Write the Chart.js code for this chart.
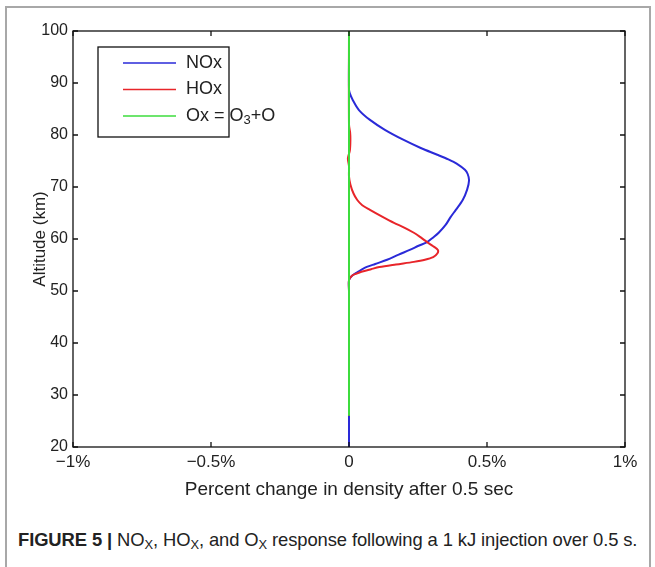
<!DOCTYPE html>
<html lang="en">
<head>
    <meta charset="UTF-8">
    <title>Figure 5</title>
    <script src="https://cdn.jsdelivr.net/npm/chart.js"></script>
    <style>
        body {
            margin: 0;
            background: #fff;
            font-family: 'Liberation Sans', Arial, sans-serif;
        }
        #frame {
            position: absolute;
            left: 5px;
            top: 6px;
            width: 642px;
            height: 600px;
            border: 2px solid #a8a8a8;
            border-bottom: none;
        }
        #wrap {
            position: absolute;
            left: 0;
            top: 0;
            width: 655px;
            height: 520px;
        }
        #caption {
            position: absolute;
            left: 18px;
            top: 529px;
            font-size: 18.4px;
            color: #222;
            white-space: nowrap;
            letter-spacing: -0.1px;
        }
        #caption b { font-weight: bold; }
        #caption sub { font-size: 70%; vertical-align: -3px; }
    </style>
</head>
<body>

    <div id="frame"></div>
    <div id="wrap"><canvas id="chart" width="655" height="520"></canvas></div>
    <div id="caption"><b>FIGURE 5 |</b> NO<sub>X</sub>, HO<sub>X</sub>, and O<sub>X</sub> response following a 1 kJ injection over 0.5 s.</div>

    <script>
        // altitude (km) and percent change for each species
        var noxAlt = [20, 30, 40, 50, 52.1, 52.9, 53.6, 54.4, 55.2, 56.0, 57.0, 57.9, 58.7, 59.4, 60.3, 61.2, 62.7, 64.2, 65.6, 67.5, 69.5, 71.3, 72.5, 73.3, 74.5, 75.3, 76.2, 77.5, 79.0, 81.0, 82.9, 84.8, 86.7, 88.0, 88.8, 95, 100];
        var noxVal = [0, 0, 0, 0, 0, 0.01, 0.03, 0.055, 0.095, 0.138, 0.18, 0.22, 0.252, 0.283, 0.305, 0.325, 0.35, 0.368, 0.387, 0.412, 0.428, 0.435, 0.43, 0.42, 0.39, 0.36, 0.32, 0.26, 0.2, 0.13, 0.076, 0.036, 0.014, 0.003, 0, 0, 0];

        var hoxAlt = [26, 40, 50, 52.1, 52.9, 53.3, 53.7, 54.2, 54.6, 55.1, 55.6, 56.0, 56.5, 57.2, 57.9, 58.6, 59.4, 60.3, 61.2, 62.2, 63.1, 64.3, 65.6, 66.5, 67.5, 68.8, 70.5, 72, 74, 75.5, 77, 79, 80.5, 82, 100];
        var hoxVal = [0, 0, 0, 0, 0.01, 0.025, 0.045, 0.08, 0.11, 0.17, 0.235, 0.275, 0.305, 0.32, 0.322, 0.305, 0.283, 0.26, 0.235, 0.2, 0.163, 0.12, 0.076, 0.048, 0.03, 0.016, 0.005, 0, 0, -0.004, 0.003, 0.005, 0.004, 0, 0];

        var oxAlt = [26, 100];
        var oxVal = [0, 0];

        var seriesLabels = ['NOx', 'HOx', 'Ox = O3+O'];
        var seriesColors = ['#2a2ad8', '#e8252a', '#3ddc3d'];

        var xTickValues = [-1, -0.5, 0, 0.5, 1];
        var xTickLabels = ['\u22121%', '\u22120.5%', '0', '0.5%', '1%'];
        var yTickValues = [20, 30, 40, 50, 60, 70, 80, 90, 100];

        var fontFamily = "'Liberation Sans', Arial, sans-serif";

        function toPoints(alt, val) {
            var pts = [];
            for (var i = 0; i < alt.length; i++) {
                pts.push({ x: val[i], y: alt[i] });
            }
            return pts;
        }

        // box around the plot with inward tick marks on all four sides
        var boxPlugin = {
            id: 'box',
            afterDatasetsDraw: function (chart) {
                var ctx = chart.ctx;
                var a = chart.chartArea;
                var xs = chart.scales.x, ys = chart.scales.y;
                ctx.save();
                ctx.strokeStyle = '#111';
                ctx.lineWidth = 1.3;
                ctx.strokeRect(a.left, a.top, a.right - a.left, a.bottom - a.top);
                ctx.beginPath();
                xTickValues.forEach(function (v) {
                    var px = xs.getPixelForValue(v);
                    ctx.moveTo(px, a.bottom); ctx.lineTo(px, a.bottom - 5);
                    ctx.moveTo(px, a.top); ctx.lineTo(px, a.top + 5);
                });
                yTickValues.forEach(function (v) {
                    var py = ys.getPixelForValue(v);
                    ctx.moveTo(a.left, py); ctx.lineTo(a.left + 5, py);
                    ctx.moveTo(a.right, py); ctx.lineTo(a.right - 5, py);
                });
                ctx.stroke();
                ctx.restore();
            }
        };

        // legend box in the upper left corner of the plot
        var legendPlugin = {
            id: 'boxLegend',
            afterDraw: function (chart) {
                var ctx = chart.ctx;
                var a = chart.chartArea;
                var bx = a.left + 25, by = a.top + 16, bw = 131, bh = 90;
                var fs = 18;
                ctx.save();
                ctx.fillStyle = '#fff';
                ctx.fillRect(bx, by, bw, bh);
                ctx.strokeStyle = '#111';
                ctx.lineWidth = 1.3;
                ctx.strokeRect(bx, by, bw, bh);
                ctx.font = fs + 'px ' + fontFamily;
                ctx.textBaseline = 'middle';
                chart.data.datasets.forEach(function (ds, i) {
                    var ly = by + 16 + i * 26.5;
                    ctx.strokeStyle = ds.borderColor;
                    ctx.lineWidth = 1.5;
                    ctx.beginPath();
                    ctx.moveTo(bx + 25, ly);
                    ctx.lineTo(bx + 78, ly);
                    ctx.stroke();
                    ctx.fillStyle = '#222';
                    var tx = bx + 88;
                    var label = ds.label;
                    var k = label.indexOf('O3');
                    if (k >= 0) {
                        // subscript 3 in O3
                        var pre = label.slice(0, k + 1);
                        var post = label.slice(k + 2);
                        ctx.fillText(pre, tx, ly);
                        tx += ctx.measureText(pre).width;
                        ctx.font = '13px ' + fontFamily;
                        ctx.fillText('3', tx, ly + 4);
                        tx += ctx.measureText('3').width;
                        ctx.font = fs + 'px ' + fontFamily;
                        ctx.fillText(post, tx, ly);
                    } else {
                        ctx.fillText(label, tx, ly);
                    }
                });
                ctx.restore();
            }
        };

        var ctx = document.getElementById('chart').getContext('2d');
        var myChart = new Chart(ctx, {
            type: 'line',
            data: {
                datasets: [
                    { label: seriesLabels[0], data: toPoints(noxAlt, noxVal), borderColor: seriesColors[0], order: 3 },
                    { label: seriesLabels[1], data: toPoints(hoxAlt, hoxVal), borderColor: seriesColors[1], order: 2 },
                    { label: seriesLabels[2], data: toPoints(oxAlt, oxVal), borderColor: seriesColors[2], order: 1 }
                ]
            },
            options: {
                responsive: false,
                animation: false,
                layout: { padding: { left: 0, top: 31, right: 30, bottom: 0 } },
                elements: {
                    line: { borderWidth: 2, tension: 0.3, fill: false },
                    point: { radius: 0 }
                },
                plugins: {
                    legend: { display: false },
                    tooltip: { enabled: false }
                },
                scales: {
                    x: {
                        type: 'linear',
                        min: -1,
                        max: 1,
                        afterBuildTicks: function (scale) {
                            scale.ticks = xTickValues.map(function (v) { return { value: v }; });
                        },
                        afterFit: function (scale) { scale.height = 73; },
                        ticks: {
                            autoSkip: false,
                            maxRotation: 0,
                            padding: 5,
                            color: '#222',
                            font: { family: fontFamily, size: 17 },
                            callback: function (v, i) { return xTickLabels[i]; }
                        },
                        grid: { display: false, drawTicks: false },
                        border: { display: false },
                        title: {
                            display: true,
                            text: 'Percent change in density after 0.5 sec',
                            color: '#222',
                            font: { family: fontFamily, size: 19 },
                            padding: { top: 4, bottom: 19 }
                        }
                    },
                    y: {
                        type: 'linear',
                        min: 20,
                        max: 100,
                        afterBuildTicks: function (scale) {
                            scale.ticks = yTickValues.map(function (v) { return { value: v }; });
                        },
                        afterFit: function (scale) { scale.width = 73; },
                        ticks: {
                            padding: 5,
                            color: '#222',
                            font: { family: fontFamily, size: 16 }
                        },
                        grid: { display: false, drawTicks: false },
                        border: { display: false },
                        title: {
                            display: true,
                            text: 'Altitude (km)',
                            color: '#222',
                            font: { family: fontFamily, size: 17 },
                            padding: { top: 30, bottom: 0 }
                        }
                    }
                }
            },
            plugins: [boxPlugin, legendPlugin]
        });
    </script>

</body>
</html>
